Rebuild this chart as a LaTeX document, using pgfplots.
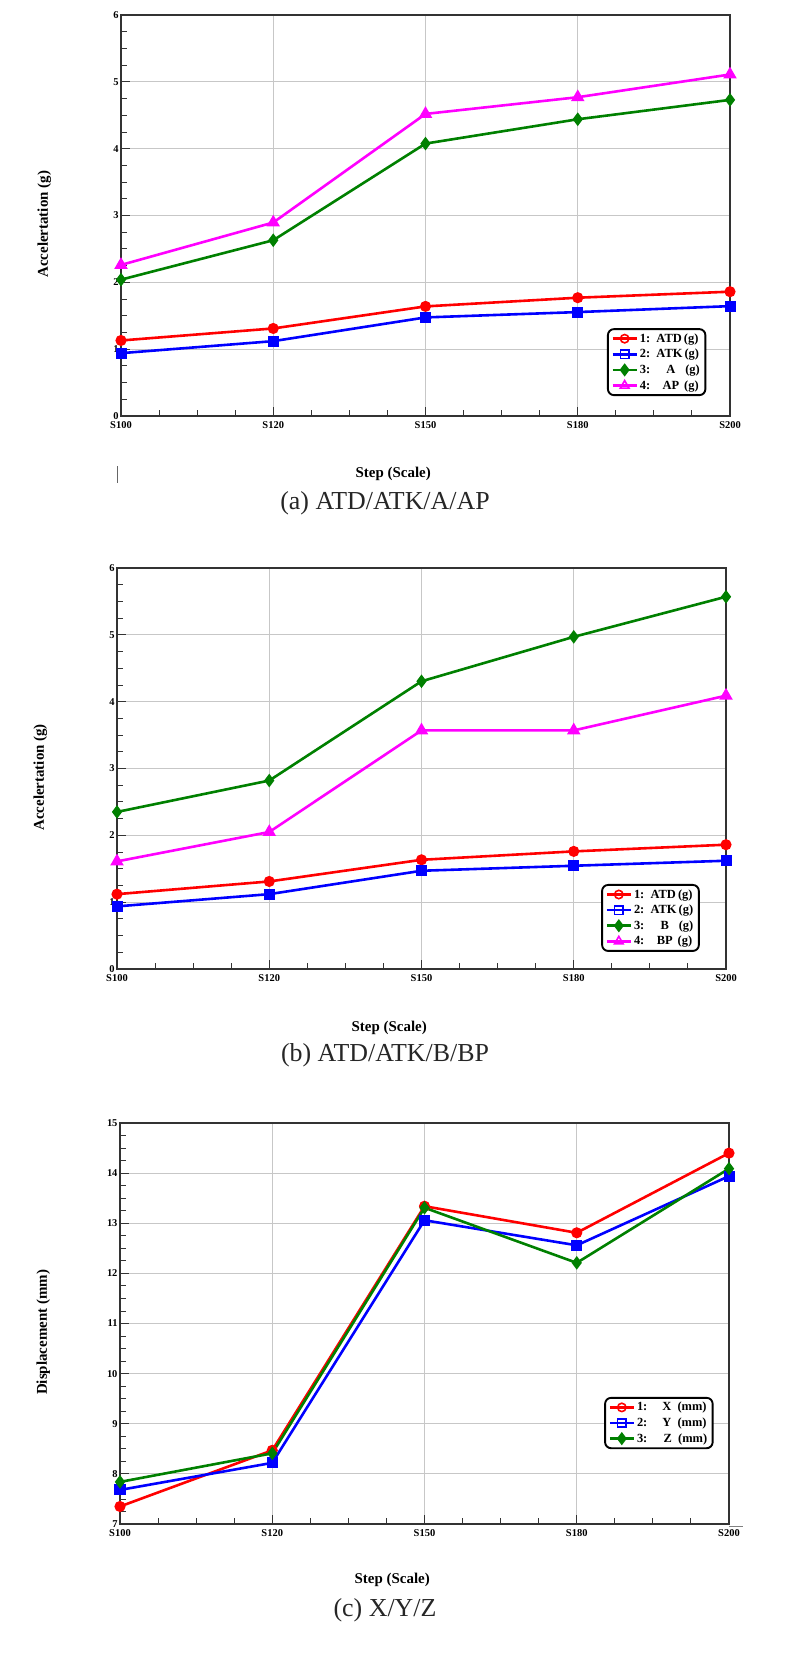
\documentclass[border=0pt]{standalone}
\usepackage{pgfplots}
\pgfplotsset{compat=1.18}
\usepackage{fontspec}
\setmainfont{Liberation Serif}
\definecolor{cgreen}{RGB}{0,128,0}
\definecolor{cmag}{RGB}{255,0,255}
\pgfplotsset{
  panel/.style={
    scale only axis, width=609bp, height=401bp,
    anchor=south west,
    xmin=0, xmax=4, xtick={0,1,2,3,4},
    xticklabels={S100,S120,S150,S180,S200},
    minor x tick num=3, minor y tick num=3,
    tick pos=left, tick align=inside,
    major tick length=9bp, minor tick length=6bp,
    grid=major, major grid style={black!22, line width=0.8bp},
    axis line style={black!80, line width=1.2bp},
    every tick/.style={black!80, line width=0.9bp},
    ticklabel style={font=\bfseries\fontsize{10.5}{12}\selectfont},
    /pgf/number format/assume math mode=true,
    xticklabel style={yshift=-2bp},
    yticklabel style={xshift=1bp},
    label style={font=\bfseries\fontsize{15}{17}\selectfont},
    xlabel={Step (Scale)},
    legend cell align=left,
    legend style={font=\bfseries\fontsize{12.5}{14}\selectfont, draw=black, line width=1.9bp,
      rounded corners=6bp, inner xsep=3.5bp, inner ysep=2.5bp, row sep=1.5bp, anchor=north west},
    legend image code/.code={\draw[mark repeat=2,mark phase=2] plot coordinates {(0cm,0cm) (0.42cm,0cm) (0.84cm,0cm)};},
  },
  l/.style={line width=2.6bp, mark size=4.2bp, solid},
}
\begin{document}
\begin{tikzpicture}
\useasboundingbox (0,0) rectangle (798bp,-1664bp);
% ---------- (a)
\begin{axis}[panel, at={(121bp,-416bp)}, ymin=0, ymax=6, ytick={0,1,2,3,4,5,6},
  xlabel style={at={(axis description cs:0.447,-0.145)}, anchor=center},
  ylabel={Accelertation (g)},
  ylabel style={at={(axis description cs:-0.126,0.478)}, anchor=center},
  legend style={at={(axis description cs:0.798,0.219)}}]
\addplot[l, red, mark=*, forget plot] coordinates {(0,1.13) (1,1.31) (2,1.64) (3,1.77) (4,1.86)};
\addplot[l, blue, mark=square*, forget plot] coordinates {(0,0.94) (1,1.12) (2,1.475) (3,1.555) (4,1.644)};
\addplot[l, cgreen, mark=diamond*, mark size=4.7bp, forget plot] coordinates {(0,2.04) (1,2.63) (2,4.076) (3,4.44) (4,4.73)};
\addplot[l, cmag, mark=triangle*, mark size=5.2bp, forget plot] coordinates {(0,2.26) (1,2.895) (2,4.52) (3,4.77) (4,5.11)};
\addlegendimage{l, red, mark=o, mark options={fill=white, line width=1.6bp}}
\addlegendentry{1:\enspace ATD\,(g)}
\addlegendimage{l, blue, mark=square, mark options={fill=white, line width=1.6bp}}
\addlegendentry{2:\enspace ATK\,(g)}
\addlegendimage{l, cgreen, mark=diamond*, mark size=4.5bp}
\addlegendentry{3:\hspace{1.3em}A\hspace{0.8em}(g)}
\addlegendimage{l, cmag, mark=triangle, mark size=5bp, mark options={fill=white, line width=1.6bp}}
\addlegendentry{4:\hspace{1.0em}AP\hspace{0.4em}(g)}
\end{axis}
\draw[black!60, line width=0.8bp] (117bp,-466bp) -- (117bp,-483bp);
\node[font=\fontsize{26}{30}\selectfont, text=black!85] at (385bp,-503bp) {(a)\ ATD/ATK/A/AP};
% ---------- (b)
\begin{axis}[panel, at={(117bp,-969bp)}, ymin=0, ymax=6, ytick={0,1,2,3,4,5,6},
  xlabel style={at={(axis description cs:0.447,-0.147)}, anchor=center},
  ylabel={Accelertation (g)},
  ylabel style={at={(axis description cs:-0.126,0.478)}, anchor=center},
  legend style={at={(axis description cs:0.795,0.212)}}]
\addplot[l, red, mark=*, forget plot] coordinates {(0,1.12) (1,1.31) (2,1.634) (3,1.76) (4,1.86)};
\addplot[l, blue, mark=square*, forget plot] coordinates {(0,0.937) (1,1.12) (2,1.47) (3,1.545) (4,1.62)};
\addplot[l, cgreen, mark=diamond*, mark size=4.7bp, forget plot] coordinates {(0,2.35) (1,2.82) (2,4.305) (3,4.97) (4,5.57)};
\addplot[l, cmag, mark=triangle*, mark size=5.2bp, forget plot] coordinates {(0,1.61) (1,2.05) (2,3.57) (3,3.57) (4,4.09)};
\addlegendimage{l, red, mark=o, mark options={fill=white, line width=1.6bp}}
\addlegendentry{1:\enspace ATD\,(g)}
\addlegendimage{l, blue, mark=square, mark options={fill=white, line width=1.6bp}}
\addlegendentry{2:\enspace ATK\,(g)}
\addlegendimage{l, cgreen, mark=diamond*, mark size=4.5bp}
\addlegendentry{3:\hspace{1.3em}B\hspace{0.8em}(g)}
\addlegendimage{l, cmag, mark=triangle, mark size=5bp, mark options={fill=white, line width=1.6bp}}
\addlegendentry{4:\hspace{1.0em}BP\hspace{0.4em}(g)}
\end{axis}
\node[font=\fontsize{26}{30}\selectfont, text=black!85] at (385bp,-1055bp) {(b)\ ATD/ATK/B/BP};
% ---------- (c)
\begin{axis}[panel, at={(120bp,-1524bp)}, ymin=7, ymax=15, ytick={7,8,...,15},
  xlabel style={at={(axis description cs:0.447,-0.14)}, anchor=center},
  ylabel={Displacement (mm)},
  ylabel style={at={(axis description cs:-0.126,0.478)}, anchor=center},
  legend style={at={(axis description cs:0.795,0.317)}}]
\addplot[l, red, mark=*, forget plot] coordinates {(0,7.35) (1,8.47) (2,13.34) (3,12.81) (4,14.40)};
\addplot[l, blue, mark=square*, forget plot] coordinates {(0,7.68) (1,8.22) (2,13.06) (3,12.56) (4,13.94)};
\addplot[l, cgreen, mark=diamond*, mark size=4.7bp, forget plot] coordinates {(0,7.84) (1,8.41) (2,13.31) (3,12.21) (4,14.09)};
\addlegendimage{l, red, mark=o, mark options={fill=white, line width=1.6bp}}
\addlegendentry{1:\hspace{1.2em}X\enspace(mm)}
\addlegendimage{l, blue, mark=square, mark options={fill=white, line width=1.6bp}}
\addlegendentry{2:\hspace{1.2em}Y\enspace(mm)}
\addlegendimage{l, cgreen, mark=diamond*, mark size=4.5bp}
\addlegendentry{3:\hspace{1.3em}Z\enspace(mm)}
\end{axis}
\draw[black!50, line width=0.8bp] (729bp,-1526bp) -- (743bp,-1526bp);
\node[font=\fontsize{26}{30}\selectfont, text=black!85] at (385bp,-1610bp) {(c)\ X/Y/Z};
\end{tikzpicture}
\end{document}
